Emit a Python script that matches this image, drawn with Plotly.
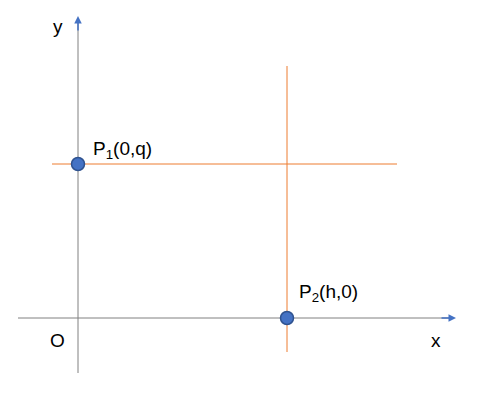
import plotly.graph_objects as go

# data (unit coords: h=1, q=1)
point_names = ["P<sub>1</sub>(0,q)", "P<sub>2</sub>(h,0)"]
px_vals = [0, 1]
py_vals = [1, 0]

off = 8  # page body margin
ox, oy, sx, sy = 78, 318, 209, 154
def X(p): return (p - ox) / sx
def Y(p): return (oy - p) / sy

fig = go.Figure()
fig.add_trace(go.Scatter(x=[X(52), X(397)], y=[py_vals[0]]*2, mode="lines",
                         line=dict(color="#ED7D31", width=1), hoverinfo="skip"))
fig.add_trace(go.Scatter(x=[px_vals[1]]*2, y=[Y(66), Y(352)], mode="lines",
                         line=dict(color="#ED7D31", width=1), hoverinfo="skip"))
fig.add_trace(go.Scatter(x=[X(18), X(450)], y=[0, 0], mode="lines",
                         line=dict(color="#808080", width=1), hoverinfo="skip"))
fig.add_trace(go.Scatter(x=[0, 0], y=[Y(373), Y(22)], mode="lines",
                         line=dict(color="#808080", width=1), hoverinfo="skip"))
fig.add_trace(go.Scatter(x=px_vals, y=py_vals, mode="markers",
                         marker=dict(size=13, color="#4472C4", line=dict(color="#2F528F", width=1.5))))

font = dict(family="Liberation Sans", size=19, color="black")
fig.add_annotation(x=X(456), y=0, ax=X(440), ay=0, xref="x", yref="y", axref="x", ayref="y",
                   showarrow=True, arrowhead=2, arrowsize=1, arrowwidth=1.5, arrowcolor="#4472C4", text="")
fig.add_annotation(x=0, y=Y(16), ax=0, ay=Y(32), xref="x", yref="y", axref="x", ayref="y",
                   showarrow=True, arrowhead=2, arrowsize=1, arrowwidth=1.5, arrowcolor="#4472C4", text="")
labels = [("y", X(58), Y(26)), ("x", X(436), Y(340)), ("O", X(57), Y(340)),
          (point_names[0], X(122), Y(150)), (point_names[1], X(328), Y(293))]
for t, x, y in labels:
    fig.add_annotation(x=x, y=y, text=t, showarrow=False, font=font)

fig.update_layout(width=486 - off, height=400 - off, margin=dict(l=0, r=0, t=0, b=0),
                  plot_bgcolor="white", paper_bgcolor="white", showlegend=False,
                  xaxis=dict(range=[X(off), X(486)], visible=False),
                  yaxis=dict(range=[Y(400), Y(off)], visible=False))
fig.write_html("out.html")
